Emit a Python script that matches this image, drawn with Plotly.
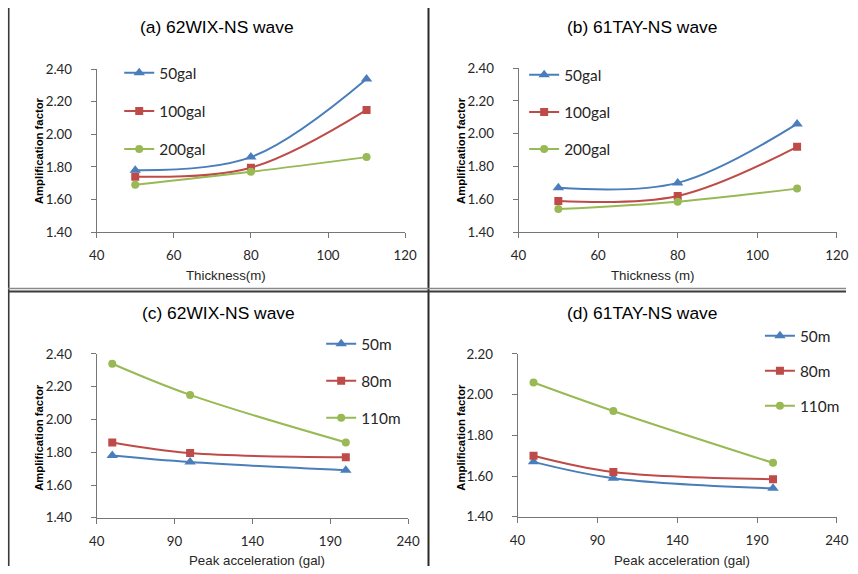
import plotly.graph_objects as go

# ---------------- data ----------------
thickness_m = [50, 80, 110]
peak_acc_gal = [50, 100, 200]
gal_labels = ["50gal", "100gal", "200gal"]
m_labels = ["50m", "80m", "110m"]

wix_50gal = [1.78, 1.86, 2.34]
wix_100gal = [1.74, 1.795, 2.15]
wix_200gal = [1.69, 1.77, 1.86]

tay_50gal = [1.67, 1.70, 2.06]
tay_100gal = [1.59, 1.62, 1.92]
tay_200gal = [1.54, 1.585, 1.665]

titles = ["(a) 62WIX-NS wave", "(b) 61TAY-NS wave", "(c) 62WIX-NS wave", "(d) 61TAY-NS wave"]
xtitles = ["Thickness(m)", "Thickness (m)", "Peak acceleration (gal)", "Peak acceleration (gal)"]
ytitle = "Amplification factor"

# ---------------- styling / geometry ----------------
W, H = 858, 574            # figure size (css px)
MARGIN = 8                 # page body margin
SX, SY = 874 / 858, 590 / 574   # photo -> page scale


def fx(r):
    """target picture x pixel -> paper fraction"""
    return (r * SX - MARGIN) / W


def fy(r):
    """target picture y pixel -> paper fraction"""
    return 1 - (r * SY - MARGIN) / H


colors = ["#4A7EBB", "#BE4B48", "#98B954"]
symbols = ["triangle-up", "square", "circle"]
msizes = [10, 8, 8]
TICKFONT = dict(family="Lato, Carlito, Calibri, sans-serif", size=13.3, color="#262626")
LEGFONT = dict(family="Lato, Carlito, Calibri, sans-serif", size=15.4, color="#262626")

fig = go.Figure()

wix_by_gal = [wix_50gal, wix_100gal, wix_200gal]
tay_by_gal = [tay_50gal, tay_100gal, tay_200gal]
wix_by_m = [list(v) for v in zip(*wix_by_gal)]
tay_by_m = [list(v) for v in zip(*tay_by_gal)]

panels = [
    dict(x=thickness_m, series=wix_by_gal, names=gal_labels),
    dict(x=thickness_m, series=tay_by_gal, names=gal_labels),
    dict(x=peak_acc_gal, series=wix_by_m, names=m_labels),
    dict(x=peak_acc_gal, series=tay_by_m, names=m_labels),
]

for p, panel in enumerate(panels):
    ax = "" if p == 0 else str(p + 1)
    leg = "legend" if p == 0 else f"legend{p + 1}"
    for i, (vals, name) in enumerate(zip(panel["series"], panel["names"])):
        fig.add_trace(go.Scatter(
            x=panel["x"], y=vals, name=name, mode="lines+markers",
            line=dict(color=colors[i], width=2, shape="spline", smoothing=1),
            marker=dict(symbol=symbols[i], size=msizes[i], color=colors[i]),
            xaxis="x" + ax, yaxis="y" + ax, legend=leg,
            legendgroup=f"p{p}g{i}", showlegend=True,
        ))

# axis geometry (target picture pixels)
geo = [
    dict(x0=97, x1=407, y0=69, y1=232, xr=[40, 120], xd=20, yr=[1.4, 2.4], yd=0.2),
    dict(x0=521, x1=841, y0=68, y1=232, xr=[40, 120], xd=20, yr=[1.4, 2.4], yd=0.2),
    dict(x0=97, x1=410, y0=354, y1=518, xr=[40, 240], xd=50, yr=[1.4, 2.4], yd=0.2),
    dict(x0=520, x1=841, y0=354, y1=517, xr=[40, 240], xd=50, yr=[1.4, 2.2], yd=0.2),
]

axis_common = dict(
    showgrid=False, zeroline=False, showline=True, linecolor="#767676", linewidth=1,
    ticks="outside", ticklen=5, tickcolor="#767676", tickfont=TICKFONT,
    fixedrange=True,
)

layout = {}
for p, g in enumerate(geo):
    ax = "" if p == 0 else str(p + 1)
    layout["xaxis" + ax] = dict(
        axis_common, domain=[fx(g["x0"]), fx(g["x1"])], range=g["xr"], dtick=g["xd"],
        tick0=40, anchor="y" + ax, ticklabelstandoff=6,
    )
    layout["yaxis" + ax] = dict(
        axis_common, domain=[fy(g["y1"]), fy(g["y0"])], range=g["yr"], dtick=g["yd"],
        tickformat=".2f", anchor="x" + ax, ticklabelstandoff=16,
    )

# legends: (end of sample line x, first row centre y) in target picture pixels
leg_pos = [(154, 73), (561, 75), (357, 344), (798, 336)]
leg_gap = [15, 14, 14, 12]
for p, (lx, ly) in enumerate(leg_pos):
    key = "legend" if p == 0 else f"legend{p + 1}"
    ox = (lx * SX - 35 - MARGIN) / W
    oy = 1 - (ly * SY - 17.3 - MARGIN) / H
    layout[key] = dict(
        x=ox, y=oy, xanchor="left", yanchor="top",
        bgcolor="rgba(0,0,0,0)", borderwidth=0, font=LEGFONT,
        itemwidth=30, tracegroupgap=leg_gap[p], traceorder="grouped",
        itemclick=False, itemdoubleclick=False,
    )

annotations = []
title_pos = [(218, 27), (645, 27), (219, 313), (645, 313)]
xt_pos = [(227, 275), (656, 275), (258, 561), (685, 561)]
yt_pos = [(39, 150), (463, 150), (39, 437), (463, 437)]
for p in range(4):
    annotations.append(dict(
        text=titles[p], x=fx(title_pos[p][0]), y=fy(title_pos[p][1]), xref="paper", yref="paper",
        xanchor="center", yanchor="middle", showarrow=False,
        font=dict(family="Liberation Sans, Arial, sans-serif", size=17.4, color="#000000"),
    ))
    annotations.append(dict(
        text=xtitles[p], x=fx(xt_pos[p][0]), y=fy(xt_pos[p][1]), xref="paper", yref="paper",
        xanchor="center", yanchor="middle", showarrow=False,
        font=dict(family="Liberation Sans, Arial, sans-serif", size=13.3, color="#262626"),
    ))
    annotations.append(dict(
        text="<b>" + ytitle + "</b>", x=fx(yt_pos[p][0]), y=fy(yt_pos[p][1]), xref="paper", yref="paper",
        xanchor="center", yanchor="middle", showarrow=False, textangle=-90,
        font=dict(family="Liberation Sans, Arial, sans-serif", size=11.3, color="#000000"),
    ))

shapes = [
    dict(type="line", xref="paper", yref="paper", x0=fx(8.6), x1=fx(8.6), y0=0, y1=1,
         line=dict(color="#3a3a3a", width=1.6), layer="above"),
    dict(type="line", xref="paper", yref="paper", x0=fx(430.5), x1=fx(430.5), y0=0, y1=1,
         line=dict(color="#2a2a2a", width=2), layer="above"),
    dict(type="line", xref="paper", yref="paper", x0=0, x1=1, y0=fy(288.6), y1=fy(288.6),
         line=dict(color="#8a8a8a", width=1.5), layer="above"),
    dict(type="line", xref="paper", yref="paper", x0=0, x1=1, y0=fy(291.6), y1=fy(291.6),
         line=dict(color="#3a3a3a", width=2), layer="above"),
]

fig.update_layout(
    width=W, height=H, margin=dict(l=0, r=0, t=0, b=0),
    paper_bgcolor="white", plot_bgcolor="white",
    annotations=annotations, shapes=shapes, **layout,
)

fig.write_html(
    "out.html",
    config={"displayModeBar": False},
    post_script=(
        "document.body.style.background="
        "'linear-gradient(to right, #E6E6E6 8px, transparent 8px), "
        "linear-gradient(#E6E6E6 6.2px, #3a3a3a 6.2px, #3a3a3a 7.7px, #ffffff 7.7px)';"
    ),
)
